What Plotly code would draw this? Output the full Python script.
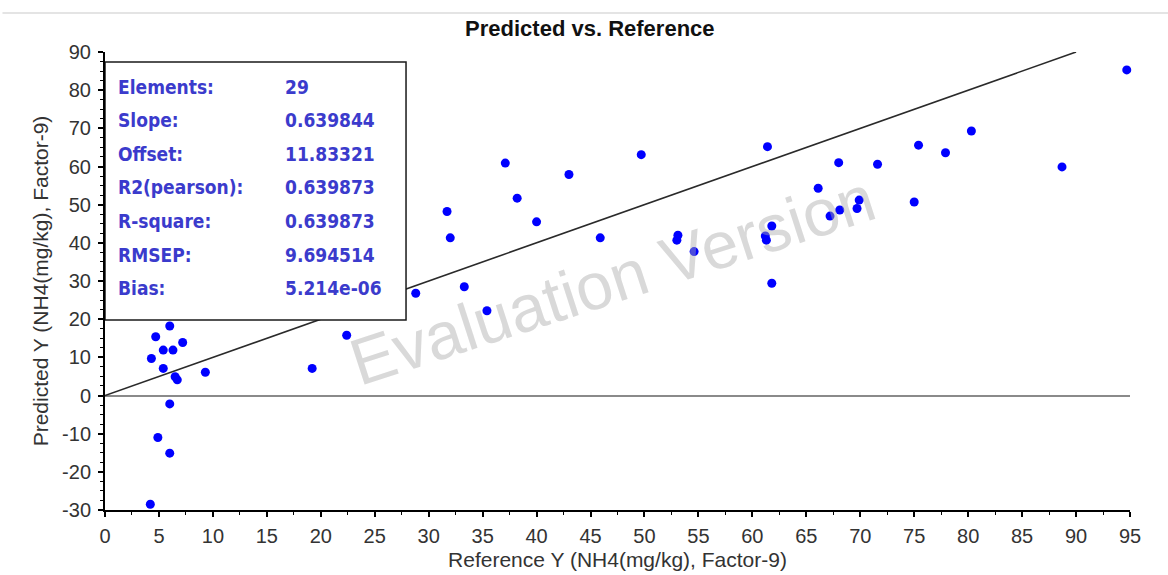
import plotly.graph_objects as go

# ---- data ----
ref_y = [4.7, 6.0, 4.3, 5.4, 6.3, 7.2, 5.4, 6.5, 6.7, 9.3, 6.0, 4.9, 6.0, 4.2,
         19.2, 22.4, 28.8, 33.3, 35.4,
         31.7, 32.0, 37.1, 38.2, 40.0, 43.0, 45.9, 49.7, 53.1, 53.0, 54.6,
         61.4, 61.8, 61.2, 61.3, 61.8,
         66.1, 68.0, 71.6, 67.2, 68.1, 69.7, 69.9, 75.0, 75.4, 77.9, 80.3, 88.7, 94.7]
pred_y = [15.4, 18.2, 9.7, 11.9, 11.9, 13.9, 7.1, 4.9, 4.1, 6.1, -2.2, -11.0, -15.1, -28.5,
          7.1, 15.8, 26.8, 28.5, 22.2,
          48.2, 41.3, 60.9, 51.7, 45.5, 57.9, 41.3, 63.1, 42.0, 40.7, 37.7,
          65.2, 44.4, 41.8, 40.7, 29.4,
          54.3, 61.0, 60.6, 47.0, 48.6, 49.0, 51.2, 50.7, 65.6, 63.6, 69.3, 59.9, 85.3]

target_x = [0, 90]
target_y = [0, 90]

x_ticks = list(range(0, 100, 5))
y_ticks = list(range(-30, 100, 10))

stat_labels = ["Elements:", "Slope:", "Offset:", "R2(pearson):", "R-square:", "RMSEP:", "Bias:"]
stat_values = ["29", "0.639844", "11.83321", "0.639873", "0.639873", "9.694514", "5.214e-06"]
stat_rows_y = [80.9, 72.1, 63.2, 54.5, 45.8, 36.9, 28.1]

title_text = "Predicted vs. Reference"
x_title = "Reference Y (NH4(mg/kg), Factor-9)"
y_title = "Predicted Y (NH4(mg/kg), Factor-9)"
watermark = "Evaluation Version"

# ---- figure ----
fig = go.Figure()

fig.add_trace(go.Scatter(
    x=target_x, y=target_y, mode="lines",
    line=dict(color="#2a2a2a", width=1.6),
    hoverinfo="skip", showlegend=False))

fig.add_trace(go.Scatter(
    x=ref_y, y=pred_y, mode="markers",
    marker=dict(color="#0000ff", size=9, line=dict(width=0)),
    cliponaxis=False, showlegend=False))

sans = "Liberation Sans, Arial, sans-serif"
tick_font = dict(family=sans, size=20, color="#333333")
axis_title_font = dict(family=sans, size=21, color="#333333")

fig.update_xaxes(
    range=[0, 95], tickvals=x_ticks, ticktext=[str(v) for v in x_ticks],
    showline=True, linecolor="black", linewidth=2, mirror=False,
    ticks="outside", ticklen=5, tickwidth=1.5, tickcolor="black",
    minor=dict(dtick=2.5, tick0=0, ticks="outside", ticklen=3, tickwidth=1.2, tickcolor="black"),
    showgrid=False, zeroline=False, tickfont=tick_font, ticklabelstandoff=2,
    automargin=False,
    title=dict(text=x_title, font=axis_title_font, standoff=6))

fig.update_yaxes(
    range=[-30, 90], tickvals=y_ticks, ticktext=[str(v) for v in y_ticks],
    showline=True, linecolor="black", linewidth=2, mirror=False,
    ticks="outside", ticklen=5, tickwidth=1.5, tickcolor="black",
    minor=dict(dtick=2.5, tick0=0, ticks="outside", ticklen=3, tickwidth=1.2, tickcolor="black"),
    showgrid=False, zeroline=True, zerolinecolor="#8a8a8a", zerolinewidth=1.5,
    tickfont=tick_font, ticklabelstandoff=3, automargin=False,
    title=dict(text=y_title, font=axis_title_font, standoff=8))

# stats box (above the traces)
fig.add_shape(type="rect", xref="x", yref="y", x0=0, x1=27.9, y0=19.8, y1=87.4,
              fillcolor="white", line=dict(color="#1a1a1a", width=1.5), layer="above")
# faint top border line
fig.add_shape(type="line", xref="paper", yref="paper", x0=-0.1, x1=1.04, y0=1.085, y1=1.085,
              line=dict(color="#e4e4e4", width=2))

box_font = dict(family="DejaVu Sans Condensed, DejaVu Sans, Verdana, sans-serif", size=19, color="#3b3bcc")
for lab, val, yy in zip(stat_labels, stat_values, stat_rows_y):
    fig.add_annotation(x=1.0, y=yy, xref="x", yref="y", text="<b>%s</b>" % lab,
                       showarrow=False, xanchor="left", yanchor="middle", font=box_font)
    fig.add_annotation(x=16.5, y=yy, xref="x", yref="y", text="<b>%s</b>" % val,
                       showarrow=False, xanchor="left", yanchor="middle", font=box_font)

# watermark
fig.add_annotation(x=47, y=30.3, xref="x", yref="y", text=watermark, showarrow=False,
                   textangle=-18, font=dict(family=sans, size=66,
                                            color="rgba(170,170,170,0.45)"))

fig.update_layout(
    width=1168, height=575,
    margin=dict(l=105, r=38, t=52, b=65),
    paper_bgcolor="white", plot_bgcolor="white",
    title=dict(text="<b>%s</b>" % title_text, x=0.505, xanchor="center", y=0.951, yanchor="middle",
               font=dict(family=sans, size=22, color="#111111")),
    showlegend=False)

fig.write_html("out.html")
